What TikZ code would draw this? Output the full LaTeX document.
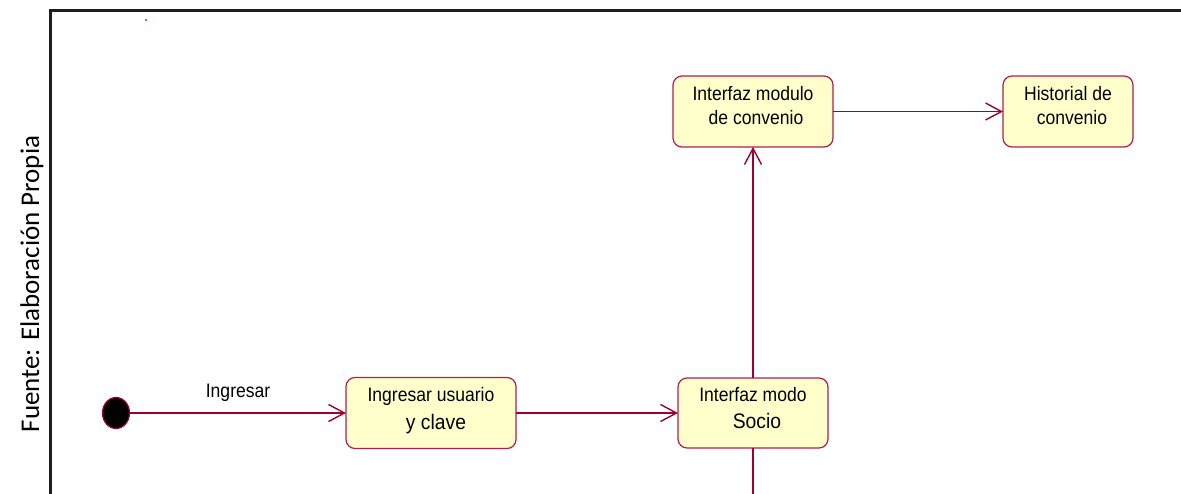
\documentclass[tikz,border=0pt]{standalone}
\usepackage{fontspec}
\setmainfont{Liberation Sans}
\newfontfamily\narrowA[FakeStretch=0.9]{Liberation Sans}
\newfontfamily\narrowB[FakeStretch=0.92]{Liberation Sans}
\newfontfamily\notefont{Carlito}
\usetikzlibrary{arrows.meta,shapes.geometric}
\definecolor{boxfill}{RGB}{255,255,204}
\definecolor{boxline}{RGB}{178,30,78}
\definecolor{wire}{RGB}{158,0,52}
\definecolor{framegray}{RGB}{30,30,30}
\tikzset{
  state/.style={draw=boxline, fill=boxfill, line width=1.2pt, rounded corners=9pt,
    inner sep=0pt, outer sep=0pt},
  conn/.style={draw=wire, line width=1.4pt,
    -{Straight Barb[length=16pt,width=17pt,line width=1.4pt]}},
  plain/.style={draw=wire, line width=1.4pt},
  lineA/.style={anchor=base, inner sep=0pt, font=\narrowA\fontsize{19.5}{22}\selectfont},
  lineB/.style={anchor=base, inner sep=0pt, font=\narrowB\fontsize{21}{24}\selectfont},
  initial/.style={ellipse, draw=wire, fill=black, line width=1.2pt,
    minimum width=27pt, minimum height=31pt, inner sep=0pt},
}
\begin{document}
\begin{tikzpicture}[x=1pt,y=-1pt]
  \useasboundingbox (0,0) rectangle (1181,494);

  % open frame: top and left rules
  \draw[framegray, line width=2.2pt] (50.5,494) -- (50.5,10.5) -- (1181,10.5);
  \fill[red!70!white] (145,19) rectangle (147,21);

  % source note
  \node[rotate=90, anchor=base, inner sep=0pt, font=\notefont\fontsize{27}{31}\selectfont]
    (src) at (39,284) {Fuente: Elaboración Propia};

  % states
  \node[initial] (start) at (116,413) {};
  \node[state, minimum width=170pt, minimum height=71pt] (b1) at (431,413) {};
  \node[state, minimum width=150pt, minimum height=70pt] (b2) at (753,413) {};
  \node[state, minimum width=160pt, minimum height=71pt] (b3) at (753,111.5) {};
  \node[state, minimum width=130pt, minimum height=71pt] (b4) at (1068,111.5) {};

  \node[lineA] (b1a) at ([yshift=-24pt]b1.north) {Ingresar usuario};
  \node[lineB] (b1b) at ([xshift=5pt,yshift=-52pt]b1.north) {y clave};
  \node[lineA] (b2a) at ([yshift=-23pt]b2.north) {Interfaz modo};
  \node[lineB] (b2b) at ([xshift=4pt,yshift=-50pt]b2.north) {Socio};
  \node[lineA] (b3a) at ([yshift=-25pt]b3.north) {Interfaz modulo};
  \node[lineA] (b3b) at ([xshift=3pt,yshift=-49pt]b3.north) {de convenio};
  \node[lineA] (b4a) at ([yshift=-25pt]b4.north) {Historial de};
  \node[lineA] (b4b) at ([xshift=4pt,yshift=-49pt]b4.north) {convenio};

  % transitions
  \coordinate (exit) at (753,500);
  \draw[conn] (start) -- node[lineA, midway, yshift=16pt] (lbl) {Ingresar} (b1);
  \draw[conn] (b1) -- (b2);
  \draw[conn] (b2) -- (b3);
  \draw[conn] (b3) -- (b4);
  \draw[plain] (b2) -- (exit);
\end{tikzpicture}
\end{document}
